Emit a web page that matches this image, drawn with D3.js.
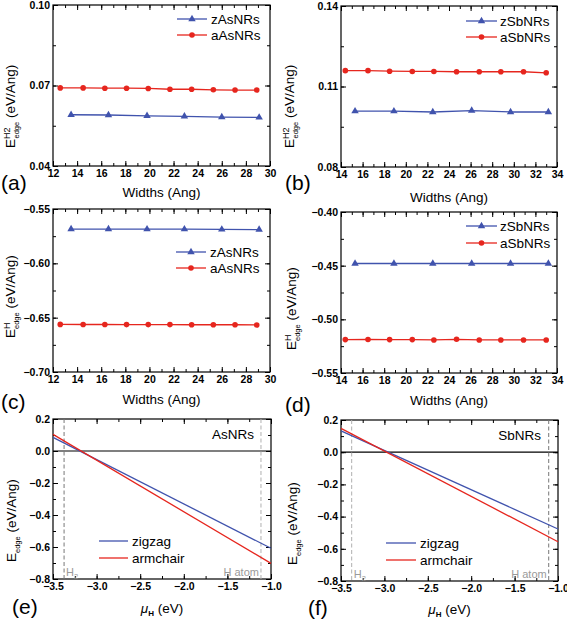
<!DOCTYPE html>
<html><head><meta charset="utf-8">
<script src="https://cdn.jsdelivr.net/npm/d3@7"></script>
<style>body{margin:0;background:#fff}svg{display:block;font-family:"Liberation Sans",Arial,sans-serif}</style>
</head><body><svg id="c" width="567" height="621"></svg>
<script>
// ---- data ----
const asWidthsZ = [13.5, 16.6, 19.8, 22.9, 26.0, 29.1];
const asWidthsA = [12.6, 14.5, 16.3, 18.1, 19.9, 21.7, 23.5, 25.3, 27.1, 28.9];
const sbWidthsZ = [15.3, 18.9, 22.5, 26.1, 29.7, 33.2];
const sbWidthsA = [14.4, 16.5, 18.5, 20.6, 22.6, 24.7, 26.8, 28.8, 30.9, 33.0];
const aZig = [0.0591, 0.0590, 0.0587, 0.0585, 0.0582, 0.0581];
const aArm = [0.0691, 0.0691, 0.0690, 0.0690, 0.0689, 0.0686, 0.0686, 0.0684, 0.0683, 0.0683];
const bZig = [0.1008, 0.1008, 0.1005, 0.1010, 0.1005, 0.1005];
const bArm = [0.1159, 0.1159, 0.1157, 0.1156, 0.1156, 0.1155, 0.1155, 0.1155, 0.1155, 0.1151];
const cZig = [-0.5685, -0.5685, -0.5686, -0.5686, -0.5688, -0.5690];
const cArm = [-0.6562, -0.6563, -0.6563, -0.6564, -0.6564, -0.6564, -0.6565, -0.6565, -0.6565, -0.6567];
const dZig = [-0.448, -0.448, -0.448, -0.448, -0.448, -0.448];
const dArm = [-0.5189, -0.5188, -0.5189, -0.5189, -0.5192, -0.5186, -0.5192, -0.5192, -0.5192, -0.5192];
const muH = [-3.5, -1.0];
const eZig = [0.085, -0.608];
const eArm = [0.104, -0.702];
const fZig = [0.132, -0.477];
const fArm = [0.148, -0.556];
const muH2 = [-3.373, -3.377];
const muHatom = [-1.115, -1.107];
const xTicksAs = [12, 14, 16, 18, 20, 22, 24, 26, 28, 30];
const xTicksSb = [14, 16, 18, 20, 22, 24, 26, 28, 30, 32, 34];
const xTicksMu = [-3.5, -3.0, -2.5, -2.0, -1.5, -1.0];
const yTicksA = [0.04, 0.07, 0.10];
const yTicksB = [0.08, 0.11, 0.14];
const yTicksC = [-0.70, -0.65, -0.60, -0.55];
const yTicksD = [-0.55, -0.50, -0.45, -0.40];
const yTicksE = [-0.8, -0.6, -0.4, -0.2, 0.0, 0.2];
const legendAs = ["zAsNRs", "aAsNRs"];
const legendSb = ["zSbNRs", "aSbNRs"];
const legendMu = ["zigzag", "armchair"];

const BLUE = "#4053ad", RED = "#e6261e";
const svg = d3.select("#c");

function panel(o) {
  const x = d3.scaleLinear().domain(o.xd).range([o.x0, o.x1]);
  const y = d3.scaleLinear().domain(o.yd).range([o.y1, o.y0]);
  const g = svg.append("g");
  const fmtX = d => d3.format(o.xf)(d);
  const fmtY = d => d3.format(o.yf)(d);
  const xMinor = d3.range(o.xd[0], o.xd[1] + 1e-9, o.xm);
  const yMinor = d3.range(o.yd[0], o.yd[1] + 1e-9, o.ym);
  const style = sel => { sel.select(".domain").remove(); sel.selectAll("line").attr("stroke", "#000").attr("stroke-width", 1); };
  g.append("g").attr("transform", `translate(0,${o.y1})`)
    .call(d3.axisBottom(x).tickValues(o.xt).tickSize(-5).tickPadding(4).tickFormat(fmtX)).call(style)
    .selectAll("text").attr("font-size", 10.5).attr("font-weight", "bold").attr("fill", "#000").attr("font-family", "Liberation Sans, Arial");
  g.append("g").attr("transform", `translate(0,${o.y1})`).call(d3.axisBottom(x).tickValues(xMinor).tickSize(-3).tickFormat("")).call(style);
  g.append("g").attr("transform", `translate(0,${o.y0})`).call(d3.axisTop(x).tickValues(o.xt).tickSize(-5).tickFormat("")).call(style);
  g.append("g").attr("transform", `translate(0,${o.y0})`).call(d3.axisTop(x).tickValues(xMinor).tickSize(-3).tickFormat("")).call(style);
  g.append("g").attr("transform", `translate(${o.x0},0)`)
    .call(d3.axisLeft(y).tickValues(o.yt).tickSize(-5).tickPadding(3).tickFormat(fmtY)).call(style)
    .selectAll("text").attr("font-size", 10.5).attr("font-weight", "bold").attr("fill", "#000").attr("font-family", "Liberation Sans, Arial");
  g.append("g").attr("transform", `translate(${o.x0},0)`).call(d3.axisLeft(y).tickValues(yMinor).tickSize(-3).tickFormat("")).call(style);
  g.append("g").attr("transform", `translate(${o.x1},0)`).call(d3.axisRight(y).tickValues(o.yt).tickSize(-5).tickFormat("")).call(style);
  g.append("g").attr("transform", `translate(${o.x1},0)`).call(d3.axisRight(y).tickValues(yMinor).tickSize(-3).tickFormat("")).call(style);
  g.append("rect").attr("x", o.x0).attr("y", o.y0).attr("width", o.x1 - o.x0).attr("height", o.y1 - o.y0)
    .attr("fill", "none").attr("stroke", "#000").attr("stroke-width", 1.2);
  // x title
  g.append("text").attr("x", (o.x0 + o.x1) / 2).attr("y", o.xtY).attr("text-anchor", "middle").attr("font-size", 13.5).text(o.xtitle);
  // panel letter
  g.append("text").attr("x", o.lx).attr("y", o.ly).attr("font-size", 21).text(o.letter);
  return { g, x, y };
}

function ylabel(g, bx, by, sup, sub) {
  const t = g.append("text").attr("transform", `translate(${bx},${by}) rotate(-90)`).attr("font-size", 13.5);
  t.append("tspan").text("E");
  if (sup) {
    t.append("tspan").attr("font-size", 9).attr("dy", -5.5).text(sup);
    const w = sup.length === 2 ? 11 : 6.5;
    t.append("tspan").attr("font-size", 7.5).attr("dx", -w).attr("dy", 9).text(sub);
    t.append("tspan").attr("dy", -3.5).text(" (eV/Ang)");
  } else {
    t.append("tspan").attr("font-size", 7.5).attr("dy", 3.5).text(sub);
    t.append("tspan").attr("dy", -3.5).text(" (eV/Ang)");
  }
}

function widthPanel(o, xz, yz, xa, ya, names, lg) {
  const p = panel(o);
  const line = d3.line();
  p.g.append("path").attr("d", line(xz.map((v, i) => [p.x(v), p.y(yz[i])]))).attr("fill", "none").attr("stroke", BLUE).attr("stroke-width", 1.3);
  p.g.append("path").attr("d", line(xa.map((v, i) => [p.x(v), p.y(ya[i])]))).attr("fill", "none").attr("stroke", RED).attr("stroke-width", 1.3);
  const tri = d3.symbol().type(d3.symbolTriangle).size(24);
  p.g.selectAll(null).data(xz).join("path").attr("d", tri).attr("fill", BLUE)
    .attr("transform", (v, i) => `translate(${p.x(v)},${p.y(yz[i])})`);
  p.g.selectAll(null).data(xa).join("circle").attr("r", 2.8).attr("fill", RED)
    .attr("cx", v => p.x(v)).attr("cy", (v, i) => p.y(ya[i]));
  // legend
  const L = p.g.append("g");
  [[BLUE, names[0], lg.y1, "t"], [RED, names[1], lg.y2, "c"]].forEach(([c, n, yy, m]) => {
    L.append("line").attr("x1", lg.lx0).attr("x2", lg.lx1).attr("y1", yy).attr("y2", yy).attr("stroke", c).attr("stroke-width", 1.3);
    const cx = (lg.lx0 + lg.lx1) / 2;
    if (m === "t") L.append("path").attr("d", tri).attr("fill", c).attr("transform", `translate(${cx},${yy})`);
    else L.append("circle").attr("cx", cx).attr("cy", yy).attr("r", 2.8).attr("fill", c);
    L.append("text").attr("x", lg.tx).attr("y", yy + 5).attr("font-size", 13.5).text(n);
  });
  return p;
}

function muPanel(o, yz, ya, h2, hat, name, lg, h2col, hatcol) {
  const p = panel(o);
  const g = p.g;
  g.append("line").attr("x1", o.x0).attr("x2", o.x1).attr("y1", p.y(0)).attr("y2", p.y(0)).attr("stroke", "#000").attr("stroke-width", 1.2);
  g.append("line").attr("x1", p.x(h2)).attr("x2", p.x(h2)).attr("y1", o.y0).attr("y2", o.y1).attr("stroke", h2col).attr("stroke-width", 1).attr("stroke-dasharray", "4,2.5");
  g.append("line").attr("x1", p.x(hat)).attr("x2", p.x(hat)).attr("y1", o.y0).attr("y2", o.y1).attr("stroke", hatcol).attr("stroke-width", 1).attr("stroke-dasharray", "4,2.5");
  const line = d3.line();
  g.append("path").attr("d", line(muH.map((v, i) => [p.x(v), p.y(yz[i])]))).attr("fill", "none").attr("stroke", BLUE).attr("stroke-width", 1.3);
  g.append("path").attr("d", line(muH.map((v, i) => [p.x(v), p.y(ya[i])]))).attr("fill", "none").attr("stroke", RED).attr("stroke-width", 1.3);
  const h2t = g.append("text").attr("x", p.x(h2) + 2).attr("y", o.y1 - 3).attr("font-size", 11).attr("fill", "#9a9a9a");
  h2t.append("tspan").text("H");
  h2t.append("tspan").attr("font-size", 7.5).attr("dy", 2.5).text("2");
  g.append("text").attr("x", p.x(hat) - 2).attr("y", o.y1 - 3).attr("text-anchor", "end").attr("font-size", 11).attr("fill", "#9a9a9a").text("H atom");
  g.append("text").attr("x", o.x1 - 17).attr("y", o.y0 + 20).attr("text-anchor", "end").attr("font-size", 13.5).text(name);
  [[BLUE, legendMu[0], lg.y1], [RED, legendMu[1], lg.y2]].forEach(([c, n, yy]) => {
    g.append("line").attr("x1", lg.lx0).attr("x2", lg.lx1).attr("y1", yy).attr("y2", yy).attr("stroke", c).attr("stroke-width", 1.3);
    g.append("text").attr("x", lg.tx).attr("y", yy + 5).attr("font-size", 13.5).text(n);
  });
  // mu_H title
  const t = g.append("text").attr("x", (o.x0 + o.x1) / 2).attr("y", o.xtY).attr("text-anchor", "middle").attr("font-size", 13.5);
  t.append("tspan").attr("font-style", "italic").text("\u03bc");
  t.append("tspan").attr("font-size", 8).attr("font-weight", "bold").attr("dy", 3).text("H");
  t.append("tspan").attr("dy", -3).text(" (eV)");
  return p;
}

const pa = widthPanel({ x0: 53, x1: 270, y0: 5, y1: 166, xd: [12, 30], yd: [0.04, 0.10], xt: xTicksAs, yt: yTicksA, xm: 1, ym: 0.015,
  xf: "d", yf: ".2f", xtitle: "Widths (Ang)", xtY: 197, letter: "(a)", lx: 1, ly: 190 },
  asWidthsZ, aZig, asWidthsA, aArm, legendAs, { lx0: 177, lx1: 207, tx: 211, y1: 19, y2: 35 });
ylabel(pa.g, 15, 148, "H2", "edge");

const pb = widthPanel({ x0: 341, x1: 557, y0: 6, y1: 167, xd: [14, 34], yd: [0.08, 0.14], xt: xTicksSb, yt: yTicksB, xm: 1, ym: 0.015,
  xf: "d", yf: ".2f", xtitle: "Widths (Ang)", xtY: 202, letter: "(b)", lx: 285, ly: 190 },
  sbWidthsZ, bZig, sbWidthsA, bArm, legendSb, { lx0: 466, lx1: 497, tx: 500, y1: 21, y2: 37 });
ylabel(pb.g, 294, 148, "H2", "edge");

const pc = widthPanel({ x0: 53, x1: 270, y0: 209, y1: 372, xd: [12, 30], yd: [-0.70, -0.55], xt: xTicksAs, yt: yTicksC, xm: 1, ym: 0.025,
  xf: "d", yf: ".2f", xtitle: "Widths (Ang)", xtY: 404, letter: "(c)", lx: 1, ly: 409 },
  asWidthsZ, cZig, asWidthsA, cArm, legendAs, { lx0: 176, lx1: 206, tx: 210, y1: 252, y2: 268 });
ylabel(pc.g, 15, 338, "H", "edge");

const pd = widthPanel({ x0: 341, x1: 557, y0: 212, y1: 373, xd: [14, 34], yd: [-0.55, -0.40], xt: xTicksSb, yt: yTicksD, xm: 1, ym: 0.025,
  xf: "d", yf: ".2f", xtitle: "Widths (Ang)", xtY: 405, letter: "(d)", lx: 285, ly: 412 },
  sbWidthsZ, dZig, sbWidthsA, dArm, legendSb, { lx0: 466, lx1: 497, tx: 500, y1: 226, y2: 243 });
ylabel(pd.g, 296, 350, "H", "edge");

const pe = muPanel({ x0: 53, x1: 271, y0: 419, y1: 579, xd: [-3.5, -1.0], yd: [-0.8, 0.2], xt: xTicksMu, yt: yTicksE, xm: 0.25, ym: 0.1,
  xf: ".1f", yf: ".1f", xtitle: "", xtY: 613, letter: "(e)", lx: 12, ly: 614 },
  eZig, eArm, muH2[0], muHatom[0], "AsNRs", { lx0: 99, lx1: 128, tx: 132, y1: 541, y2: 558 }, "#777", "#b0b0b0");
ylabel(pe.g, 16, 562, null, "edge");

const pf = muPanel({ x0: 341, x1: 558, y0: 420, y1: 581, xd: [-3.5, -1.0], yd: [-0.8, 0.2], xt: xTicksMu, yt: yTicksE, xm: 0.25, ym: 0.1,
  xf: ".1f", yf: ".1f", xtitle: "", xtY: 614, letter: "(f)", lx: 308, ly: 615 },
  fZig, fArm, muH2[1], muHatom[1], "SbNRs", { lx0: 386, lx1: 416, tx: 420, y1: 543, y2: 560 }, "#b0b0b0", "#777");
ylabel(pf.g, 297, 565, null, "edge");
</script></body></html>
